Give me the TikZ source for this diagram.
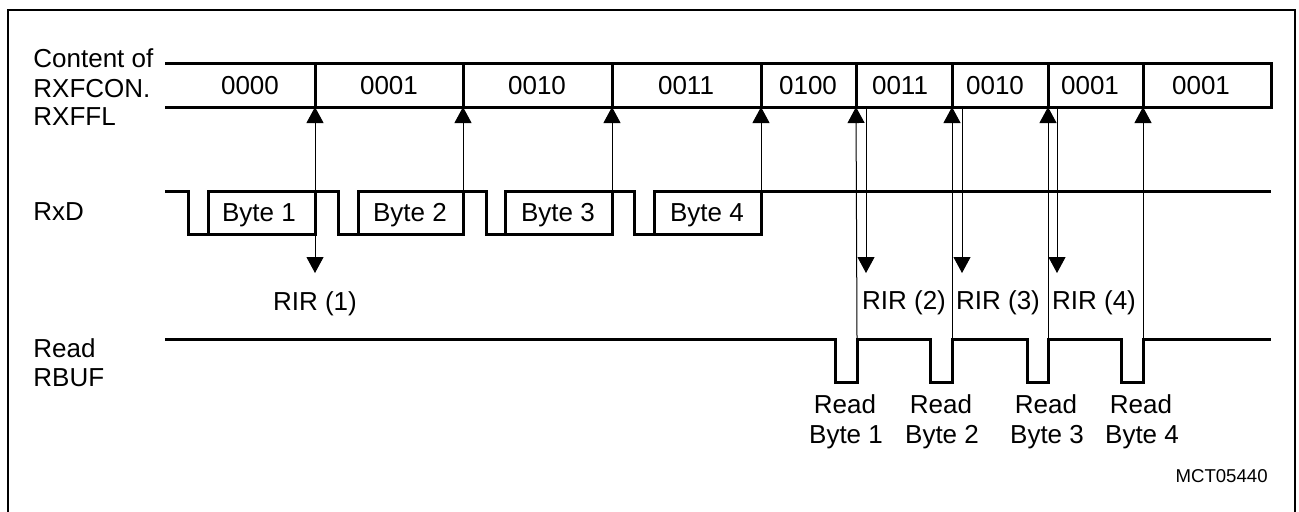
\documentclass[tikz,border=0pt]{standalone}
\usepackage{fontspec}
\setmainfont{Liberation Sans}
\usetikzlibrary{arrows.meta}
\begin{document}
\begin{tikzpicture}[x=0.5pt,y=-0.5pt,
  sig/.style={line width=1.5pt, line join=miter},
  conn/.style={line width=0.5pt},
  uptip/.style={-{Triangle[width=8.5pt,length=8pt]}},
  frame/.style={line width=1.3pt},
  lbl/.style={anchor=base west, inner sep=0pt, font=\fontsize{13}{15}\selectfont},
  txt/.style={anchor=base, inner sep=0pt, font=\fontsize{13}{15}\selectfont},
  small/.style={anchor=base east, inner sep=0pt, font=\fontsize{9.3}{11}\selectfont},
]
\clip (0,0) rectangle (1299,511);
% frame (bottom edge outside the picture)
\draw[frame] (8,540) -- (8,10) -- (1295,10) -- (1295,540);

% left labels
\node[lbl] (l1) at (33,67) {Content of};
\node[lbl] (l2) at (33,97) {RXFCON.};
\node[lbl] (l3) at (33,125) {RXFFL};
\node[lbl] (l4) at (33,220) {RxD};
\node[lbl] (l5) at (33,357) {Read};
\node[lbl] (l6) at (33,386) {RBUF};

% RXFCON.RXFFL contents
\draw[sig] (165,63) -- (1271,63) -- (1271,107) -- (165,107);
\foreach \x/\n in {315/a,463/b,612/c,761/d,856/e,952/f,1048/g,1143/h} {
  \draw[sig] (\x,63) -- (\x,107);
  \coordinate (f\n) at (\x,107);
}
\node[txt] (v1) at (250,94) {0000};
\node[txt] (v2) at (389,94) {0001};
\node[txt] (v3) at (537,94) {0010};
\node[txt] (v4) at (686,94) {0011};
\node[txt] (v5) at (808,94) {0100};
\node[txt] (v6) at (900,94) {0011};
\node[txt] (v7) at (995,94) {0010};
\node[txt] (v8) at (1090,94) {0001};
\node[txt] (v9) at (1201,94) {0001};

% RxD
\draw[sig] (165,191) -- (188,191) -- (188,234) -- (315,234) -- (315,191) -- (338,191)
  -- (338,234) -- (463,234) -- (463,191) -- (486,191) -- (486,234) -- (612,234)
  -- (612,191) -- (634,191) -- (634,234) -- (761,234) -- (761,191) -- (1271,191);
\draw[sig] (208,234) -- (208,191) -- (315,191);
\draw[sig] (358,234) -- (358,191) -- (463,191);
\draw[sig] (505,234) -- (505,191) -- (612,191);
\draw[sig] (654,234) -- (654,191) -- (761,191);
\node[txt] (b1) at (259,221) {Byte 1};
\node[txt] (b2) at (410,221) {Byte 2};
\node[txt] (b3) at (558,221) {Byte 3};
\node[txt] (b4) at (707,221) {Byte 4};
\coordinate (e1) at (315,234);
\coordinate (e2) at (463,234);
\coordinate (e3) at (612,234);
\coordinate (e4) at (761,234);

% Read RBUF
\draw[sig] (165,339) -- (835,339) -- (835,382) -- (857,382) -- (857,339)
  -- (930,339) -- (930,382) -- (952,382) -- (952,339)
  -- (1027,339) -- (1027,382) -- (1048,382) -- (1048,339)
  -- (1121,339) -- (1121,382) -- (1143,382) -- (1143,339) -- (1271,339);
\coordinate (r1) at (857,339);
\coordinate (r2) at (952,339);
\coordinate (r3) at (1048,339);
\coordinate (r4) at (1143,339);

% RIR interrupt arrows
\coordinate (d1) at (315,273);
\coordinate (s2) at (866,107);
\coordinate (d2) at (866,273);
\coordinate (s3) at (962,107);
\coordinate (d3) at (962,273);
\coordinate (s4) at (1057,107);
\coordinate (d4) at (1057,273);

% up arrows (FIFO fill level changes)
\draw[conn,uptip] (e1) -- (fa);
\draw[conn,uptip] (e2) -- (fb);
\draw[conn,uptip] (e3) -- (fc);
\draw[conn,uptip] (e4) -- (fd);
\draw[conn,uptip] (r1) -- (fe);
\draw[conn,uptip] (r2) -- (ff);
\draw[conn,uptip] (r3) -- (fg);
\draw[conn,uptip] (r4) -- (fh);
% down arrows (RIR)
\draw[conn,uptip] (e1) -- (d1);
\draw[conn,uptip] (s2) -- (d2);
\draw[conn,uptip] (s3) -- (d3);
\draw[conn,uptip] (s4) -- (d4);

\node[txt] (i1) at (315,310) {RIR (1)};
\node[txt] (i2) at (904,309) {RIR (2)};
\node[txt] (i3) at (998,309) {RIR (3)};
\node[txt] (i4) at (1094,309) {RIR (4)};

% Read labels
\node[txt] (ra1) at (845,413) {Read};
\node[txt] (rb1) at (846,443) {Byte 1};
\node[txt] (ra2) at (941,413) {Read};
\node[txt] (rb2) at (942,443) {Byte 2};
\node[txt] (ra3) at (1046,413) {Read};
\node[txt] (rb3) at (1047,443) {Byte 3};
\node[txt] (ra4) at (1141,413) {Read};
\node[txt] (rb4) at (1142,443) {Byte 4};

\node[small] (id) at (1268,482) {MCT05440};
\end{tikzpicture}
\end{document}
